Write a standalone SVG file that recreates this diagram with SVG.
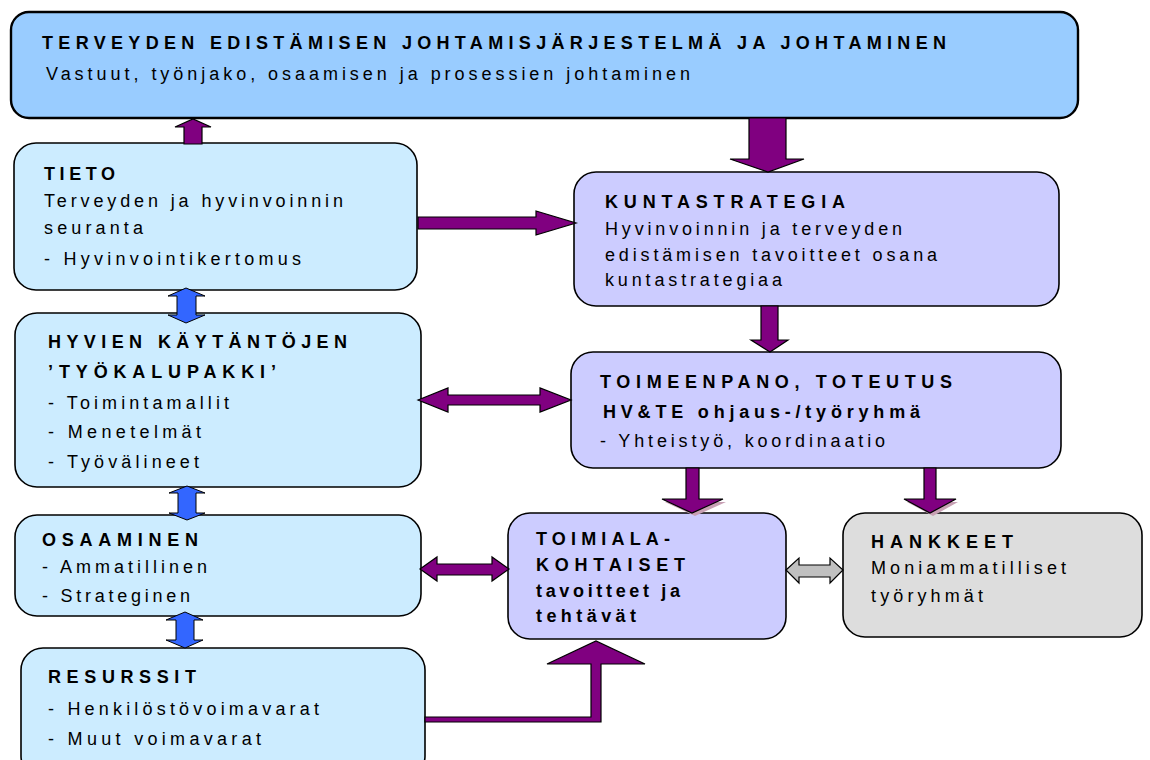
<svg xmlns="http://www.w3.org/2000/svg" width="1150" height="760" viewBox="0 0 1150 760">
<style>
.box{stroke:#000;stroke-width:1.6}
.top{fill:#99CCFF;stroke:#000;stroke-width:2.4}
.lb{fill:#CCECFF}
.pb{fill:#CCCCFF}
.gb{fill:#DDDDDD}
.t{font-family:"Liberation Sans",Arial,sans-serif;font-size:18px;fill:#000}
.b{font-weight:bold}
.pa{fill:#800080;stroke:#000;stroke-width:1.2;stroke-linejoin:miter}
.ba{fill:#3366FF;stroke:#000;stroke-width:1}
.ga{fill:#C0C0C0;stroke:#000;stroke-width:1.2}
.sh{fill:#C8A0B4}
</style>
<rect width="1150" height="760" fill="#fff"/>
<g id="node-top">
<rect class="top" x="11" y="12" width="1067" height="106" rx="18"/>
<text class="t b" x="42" y="49" textLength="904" lengthAdjust="spacing">TERVEYDEN EDISTÄMISEN JOHTAMISJÄRJESTELMÄ JA JOHTAMINEN</text>
<text class="t" x="46" y="80" textLength="644" lengthAdjust="spacing">Vastuut, työnjako, osaamisen ja prosessien johtaminen</text>
</g>
<g id="node-tieto">
<rect class="box lb" x="14" y="143" width="403" height="147" rx="22"/>
<text class="t b" x="44" y="180" textLength="71" lengthAdjust="spacing">TIETO</text>
<text class="t" x="44" y="207" textLength="299" lengthAdjust="spacing">Terveyden ja hyvinvoinnin</text>
<text class="t" x="44" y="234" textLength="99" lengthAdjust="spacing">seuranta</text>
<text class="t" x="44" y="265" textLength="257" lengthAdjust="spacing">- Hyvinvointikertomus</text>
</g>
<g id="node-hyvien">
<rect class="box lb" x="15" y="313" width="406" height="174" rx="22"/>
<text class="t b" x="48" y="348" textLength="299" lengthAdjust="spacing">HYVIEN KÄYTÄNTÖJEN</text>
<text class="t b" x="48" y="378" textLength="228" lengthAdjust="spacing">’TYÖKALUPAKKI’</text>
<text class="t" x="48" y="409" textLength="181" lengthAdjust="spacing">- Toimintamallit</text>
<text class="t" x="48" y="438" textLength="153" lengthAdjust="spacing">- Menetelmät</text>
<text class="t" x="48" y="468" textLength="151" lengthAdjust="spacing">- Työvälineet</text>
</g>
<g id="node-osaaminen">
<rect class="box lb" x="15" y="515" width="406" height="101" rx="22"/>
<text class="t b" x="42" y="546" textLength="156" lengthAdjust="spacing">OSAAMINEN</text>
<text class="t" x="42" y="573" textLength="165" lengthAdjust="spacing">- Ammatillinen</text>
<text class="t" x="42" y="602" textLength="148" lengthAdjust="spacing">- Strateginen</text>
</g>
<g id="node-resurssit">
<rect class="box lb" x="21" y="648" width="404" height="130" rx="22"/>
<text class="t b" x="48" y="683" textLength="148" lengthAdjust="spacing">RESURSSIT</text>
<text class="t" x="48" y="715" textLength="271" lengthAdjust="spacing">- Henkilöstövoimavarat</text>
<text class="t" x="48" y="745" textLength="213" lengthAdjust="spacing">- Muut voimavarat</text>
</g>
<g id="node-kuntastrategia">
<rect class="box pb" x="574" y="172" width="485" height="134" rx="22"/>
<text class="t b" x="605" y="208" textLength="240" lengthAdjust="spacing">KUNTASTRATEGIA</text>
<text class="t" x="605" y="235" textLength="297" lengthAdjust="spacing">Hyvinvoinnin ja terveyden</text>
<text class="t" x="605" y="261" textLength="332" lengthAdjust="spacing">edistämisen tavoitteet osana</text>
<text class="t" x="605" y="286" textLength="177" lengthAdjust="spacing">kuntastrategiaa</text>
</g>
<g id="node-toimeenpano">
<rect class="box pb" x="571" y="352" width="490" height="116" rx="22"/>
<text class="t b" x="600" y="388" textLength="352" lengthAdjust="spacing">TOIMEENPANO, TOTEUTUS</text>
<text class="t b" x="603" y="418" textLength="317" lengthAdjust="spacing">HV&amp;TE ohjaus-/työryhmä</text>
<text class="t" x="600" y="447" textLength="285" lengthAdjust="spacing">- Yhteistyö, koordinaatio</text>
</g>
<g id="node-toimiala">
<rect class="box pb" x="508" y="513" width="278" height="126" rx="22"/>
<text class="t b" x="536" y="545" textLength="134" lengthAdjust="spacing">TOIMIALA-</text>
<text class="t b" x="536" y="571" textLength="149" lengthAdjust="spacing">KOHTAISET</text>
<text class="t b" x="536" y="597" textLength="144" lengthAdjust="spacing">tavoitteet ja</text>
<text class="t b" x="536" y="622" textLength="100" lengthAdjust="spacing">tehtävät</text>
</g>
<g id="node-hankkeet">
<rect class="box gb" x="843" y="513" width="299" height="124" rx="22"/>
<text class="t b" x="871" y="548" textLength="142" lengthAdjust="spacing">HANKKEET</text>
<text class="t" x="871" y="574" textLength="195" lengthAdjust="spacing">Moniammatilliset</text>
<text class="t" x="871" y="602" textLength="112" lengthAdjust="spacing">työryhmät</text>
</g>
<g id="connectors">
<polygon class="pa" points="184,144 184,127 175,127 193,119 211,127 202,127 202,144"/>
<polygon class="pa" points="749,118 786,118 786,159 804,159 768,172 730,159 749,159"/>
<polygon class="pa" points="418,217 536,217 536,211 576,223 536,235 536,229 418,229"/>
<polygon class="pa" points="761,306 778,306 778,340 788,340 770,352 751,340 761,340"/>
<polygon class="pa" points="418,400 448,388 448,395 540,395 540,388 571,400 540,412 540,405 448,405 448,412"/>
<polygon class="sh" points="665,502 726,502 695,516"/>
<polygon class="pa" points="686,468 699,468 699,499 723,499 692,513 662,499 686,499"/>
<polygon class="sh" points="907,502 958,502 933,516"/>
<polygon class="pa" points="924,468 936,468 936,499 956,499 930,513 904,499 924,499"/>
<polygon class="pa" points="420,569 437,557 437,564 492,564 492,557 509,569 492,581 492,575 437,575 437,581"/>
<polygon class="ga" points="786,570 799,558 799,565 830,565 830,558 843,570 830,583 830,577 799,577 799,583"/>
<polygon class="pa" points="425,717 591,717 591,664 547,664 596,641 645,664 601,664 601,722 425,722"/>
<polygon class="ba" points="186,288 205,296 196,296 196,315 205,315 186,323 168,315 177,315 177,296 168,296"/>
<polygon class="ba" points="187,486 205,493 196,493 196,513 205,513 187,520 169,513 178,513 178,493 169,493"/>
<polygon class="ba" points="185,612 203,620 194,620 194,640 203,640 185,648 166,640 176,640 176,620 166,620"/>
</g>
</svg>
